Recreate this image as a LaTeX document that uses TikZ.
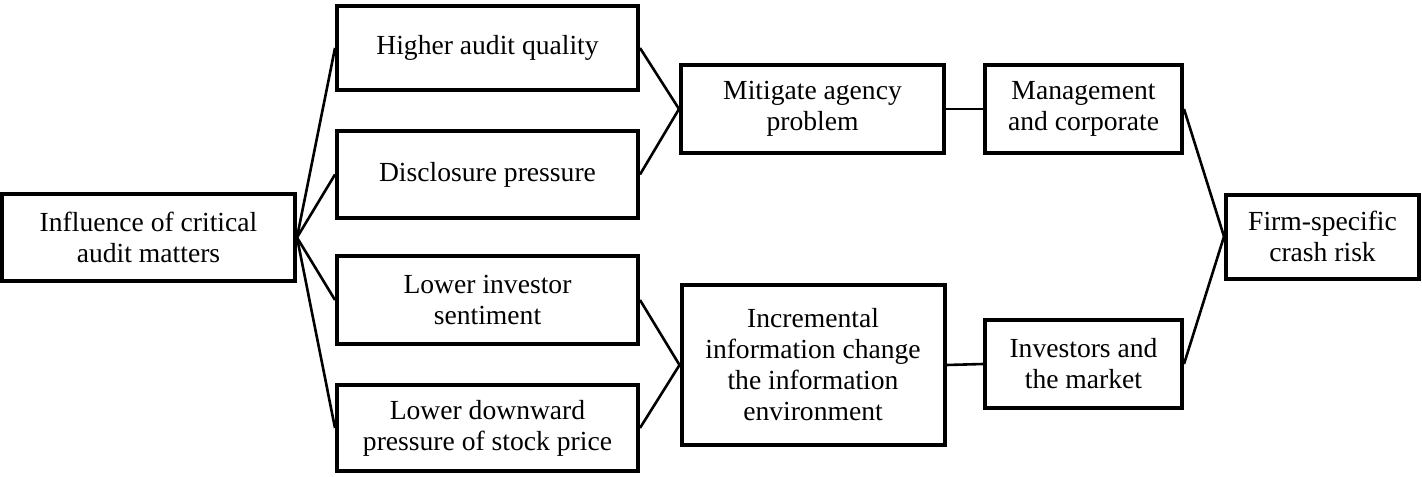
\documentclass[tikz,border=0pt]{standalone}
\usepackage{fontspec}
\setmainfont{Liberation Serif}
\begin{document}
\begin{tikzpicture}[x=0.5pt,y=-0.5pt,
    box/.style={draw,line width=2pt,align=center,inner sep=0pt,
      font=\fontsize{13.8}{15.5}\selectfont},
    link/.style={line width=1.3pt}]
      \useasboundingbox (0,0) rectangle (1422,476);
      % left column
      \node[box,minimum width=146.5pt,minimum height=43.5pt] (infl) at (148.5,237.5) {Influence of critical\\audit matters};
      % middle column
      \node[box,minimum width=150.5pt,minimum height=42pt] (haq) at (487.5,48) {Higher audit quality};
      \node[box,minimum width=150.5pt,minimum height=43.5pt] (disc) at (487.5,174.5) {Disclosure pressure};
      \node[box,minimum width=150.5pt,minimum height=44pt] (lis) at (487.5,300) {Lower investor\\sentiment};
      \node[box,minimum width=150.5pt,minimum height=43pt] (ldp) at (487.5,428) {Lower downward\\pressure of stock price};
      \node[box,minimum width=131.5pt,minimum height=44pt] (mit) at (812.5,109) {Mitigate agency\\problem};
      \node[box,minimum width=131.5pt,minimum height=80pt] (incr) at (813,365) {Incremental\\information change\\the information\\environment};
      % right column
      \node[box,minimum width=98.5pt,minimum height=44pt] (mgmt) at (1083.5,109) {Management\\and corporate};
      \node[box,minimum width=98.5pt,minimum height=44pt] (inv) at (1083.5,364) {Investors and\\the market};
      \node[box,minimum width=96.5pt,minimum height=42pt] (firm) at (1322.5,236.5) {Firm-specific\\crash risk};
      % connectors
      \draw[link] (infl.east) -- (haq.west);
      \draw[link] (infl.east) -- (disc.west);
      \draw[link] (infl.east) -- (lis.west);
      \draw[link] (infl.east) -- (ldp.west);
      \draw[link] (haq.east) -- (mit.west);
      \draw[link] (disc.east) -- (mit.west);
      \draw[link] (lis.east) -- (incr.west);
      \draw[link] (ldp.east) -- (incr.west);
      \draw[link] (mit.east) -- (mgmt.west);
      \draw[link] (incr.east) -- (inv.west);
      \draw[link] (mgmt.east) -- (firm.west);
      \draw[link] (inv.east) -- (firm.west);
\end{tikzpicture}
\end{document}
